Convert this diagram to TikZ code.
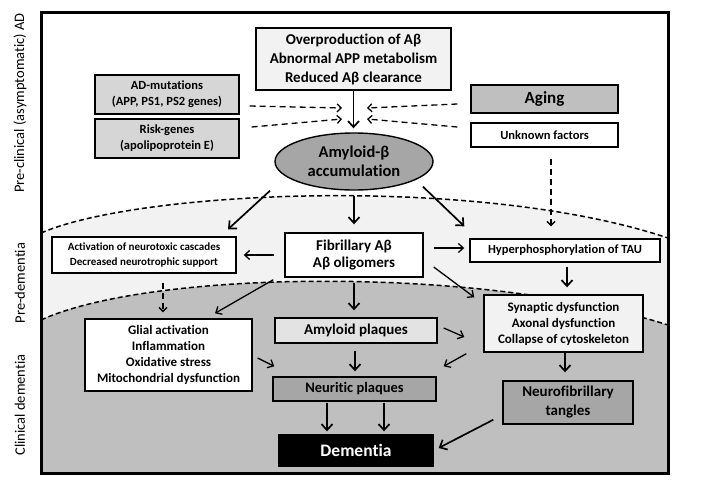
\documentclass[tikz,border=0pt]{standalone}
\usepackage{fontspec}
\setmainfont[Ligatures=NoCommon]{Carlito}
\usetikzlibrary{arrows.meta,shapes.geometric}
\definecolor{paleGray}{HTML}{F2F2F2}
\definecolor{lightGray}{HTML}{D6D6D6}
\definecolor{plaqueGray}{HTML}{E3E3E3}
\definecolor{midGray}{HTML}{BFBFBF}
\definecolor{darkGray}{HTML}{A6A6A6}
\newcommand{\fsz}[2]{\fontsize{#1}{#2}\selectfont\bfseries}
\tikzset{
  box/.style={draw, line width=1.4pt, inner sep=0pt, align=center},
  arr/.style={line width=1.7pt, -{Straight Barb[length=6pt,width=11pt]}},
  thinarr/.style={line width=1.3pt, -{Straight Barb[length=5pt,width=9pt]}},
  darr/.style={line width=1.3pt, dash pattern=on 6pt off 4pt, -{Straight Barb[length=4pt,width=8pt]}},
  stage/.style={rotate=90, font=\fontsize{14.5}{17}\selectfont},
  border/.style={line width=1.5pt, dash pattern=on 5pt off 3pt}
}
\begin{document}
\begin{tikzpicture}[x=1pt,y=-1pt]
  \useasboundingbox (0,0) rectangle (712,485);
  % stage backgrounds
  \begin{scope}
    \clip (41,12) rectangle (668,473);
    \fill[paleGray] (41,233) .. controls (140,190) and (480,175) .. (668,238) -- (668,473) -- (41,473) -- cycle;
    \fill[midGray] (41,320) .. controls (150,270) and (480,265) .. (668,325) -- (668,473) -- (41,473) -- cycle;
    \draw[border] (41,233) .. controls (140,190) and (480,175) .. (668,238);
    \draw[border] (41,320) .. controls (150,270) and (480,265) .. (668,325);
  \end{scope}
  \draw[line width=3pt] (41,12) rectangle (668,473);
  \node[stage] (pre) at (20,103) {Pre-clinical (asymptomatic) AD};
  \node[stage] (predem) at (20,283) {Pre-dementia};
  \node[stage] (clin) at (20,405) {Clinical dementia};

  % causes
  \node[box, fill=paleGray, minimum width=195pt, minimum height=62pt, font=\fsz{15}{19}] (over) at (353.5,59)
    {Overproduction of Aβ\\Abnormal APP metabolism\\Reduced Aβ clearance};
  \node[box, fill=lightGray, minimum width=144pt, minimum height=39pt, font=\fsz{12.5}{16}] (mut) at (167,94.5)
    {AD-mutations\\(APP, PS1, PS2 genes)};
  \node[box, fill=lightGray, minimum width=144pt, minimum height=39pt, font=\fsz{12.5}{16}] (risk) at (167,138.5)
    {Risk-genes\\(apolipoprotein E)};
  \node[box, fill=midGray, minimum width=147pt, minimum height=28pt, font=\fsz{17}{20}] (aging) at (544.5,99) {Aging};
  \node[box, fill=white, minimum width=147pt, minimum height=24pt, font=\fsz{12.5}{15}] (unk) at (544.5,135) {Unknown factors};
  \node[box, ellipse, fill=darkGray, minimum width=158pt, minimum height=57pt, font=\fsz{16.5}{19}] (amy) at (354,161.5)
    {Amyloid-β\\accumulation};

  % pre-dementia
  \node[box, fill=white, minimum width=138pt, minimum height=44pt, font=\fsz{15}{17}] (fib) at (354,255)
    {Fibrillary Aβ\\Aβ oligomers};
  \node[box, fill=white, minimum width=184pt, minimum height=36pt, font=\fsz{11}{14}] (act) at (144,255)
    {Activation of neurotoxic cascades\\Decreased neurotrophic support};
  \node[box, fill=white, minimum width=190pt, minimum height=23pt, font=\fsz{12.5}{15}] (hyp) at (565,250.5)
    {Hyperphosphorylation of TAU};

  % clinical
  \node[box, fill=white, minimum width=167pt, minimum height=72pt, font=\fsz{13}{16}] (glial) at (168.5,355)
    {Glial activation\\Inflammation\\Oxidative stress\\Mitochondrial dysfunction};
  \node[box, fill=plaqueGray, minimum width=162pt, minimum height=25pt, font=\fsz{15}{18}] (plaq) at (356,330.5) {Amyloid plaques};
  \node[box, fill=paleGray, minimum width=159pt, minimum height=57pt, font=\fsz{13}{16}] (syn) at (563.5,323.5)
    {Synaptic dysfunction\\Axonal dysfunction\\Collapse of cytoskeleton};
  \node[box, fill=darkGray, minimum width=163pt, minimum height=24pt, font=\fsz{14.5}{17}] (neur) at (354.5,389) {Neuritic plaques};
  \node[box, fill=darkGray, minimum width=130pt, minimum height=43pt, font=\fsz{15}{19}] (tang) at (568,402.5)
    {Neurofibrillary\\tangles};
  \node[box, fill=black, text=white, minimum width=154pt, minimum height=31pt, font=\fsz{17.5}{20}] (dem) at (356,450.5) {Dementia};

  % dashed inputs
  \coordinate (hubL1) at (342,108);
  \coordinate (hubL2) at (342,119);
  \coordinate (hubR1) at (367,108);
  \coordinate (hubR2) at (367,119);
  \draw[darr] ([xshift=10pt,yshift=-11.5pt]mut.east) -- (hubL1);
  \draw[darr] ([xshift=12pt,yshift=11.5pt]risk.east) -- (hubL2);
  \draw[darr] ([xshift=-13pt,yshift=-5pt]aging.west) -- (hubR1);
  \draw[darr] ([xshift=-13pt,yshift=8pt]unk.west) -- (hubR2);
  \draw[darr] ([xshift=6.5pt,yshift=-11pt]unk.south) -- ([xshift=-14pt,yshift=12pt]hyp.north);
  \draw[darr] ([xshift=19pt,yshift=-9pt]act.south) -- ([xshift=-5.5pt,yshift=6pt]glial.north);

  % solid arrows
  \draw[arr, shorten >=4pt] (over.south) -- (over.south |- amy.north);
  \draw[arr] ([xshift=-84pt]amy.south) -- ([xshift=84pt,yshift=7pt]act.north);
  \draw[arr, shorten <=5pt, shorten >=8pt] (amy.south) -- (amy.south |- fib.north);
  \draw[arr] ([xshift=69pt,yshift=4pt]amy.south) -- ([xshift=-5pt,yshift=12pt]hyp.north west);
  \draw[thinarr, shorten <=10pt, shorten >=7pt] (fib.west) -- (act.east);
  \draw[thinarr] ([xshift=10pt,yshift=7pt]fib.east) -- ([xshift=-5pt,yshift=2.5pt]hyp.west);
  \draw[thinarr] ([xshift=-11pt,yshift=-2pt]fib.south west) -- ([xshift=46.5pt,yshift=5pt]glial.north);
  \draw[arr, shorten <=5pt, shorten >=7pt] (fib.south) -- (fib.south |- plaq.north);
  \draw[thinarr] ([xshift=10pt,yshift=-12pt]fib.east) -- ([xshift=-9pt,yshift=-3pt]syn.north west);
  \draw[arr, shorten <=4pt, shorten >=7pt] ([xshift=2pt]hyp.south) -- ([xshift=2pt]hyp.south |- syn.north);
  \draw[thinarr] ([xshift=5pt,yshift=-3pt]glial.east) -- ([xshift=2pt,yshift=10pt]neur.north west);
  \draw[thinarr] ([xshift=6pt,yshift=2.5pt]plaq.east) -- ([xshift=-19pt,yshift=-13.5pt]syn.west);
  \draw[thinarr] ([xshift=-17pt,yshift=-1pt]syn.south west) -- ([xshift=7pt,yshift=10pt]neur.north east);
  \draw[arr, shorten <=7pt, shorten >=5pt] ([xshift=-1pt]plaq.south) -- ([xshift=-1pt]plaq.south |- neur.north);
  \draw[arr, shorten >=3pt] ([xshift=-27.5pt,yshift=-1pt]neur.south) -- ([xshift=-29pt]dem.north);
  \draw[arr, shorten >=3pt] ([xshift=29.5pt,yshift=-1pt]neur.south) -- ([xshift=28pt]dem.north);
  \draw[arr, shorten >=8pt] ([xshift=1.5pt]syn.south) -- ([xshift=1.5pt]syn.south |- tang.north);
  \draw[arr] ([xshift=-9pt,yshift=5pt]tang.south west) -- ([xshift=5pt,yshift=2.5pt]dem.east);
\end{tikzpicture}
\end{document}
